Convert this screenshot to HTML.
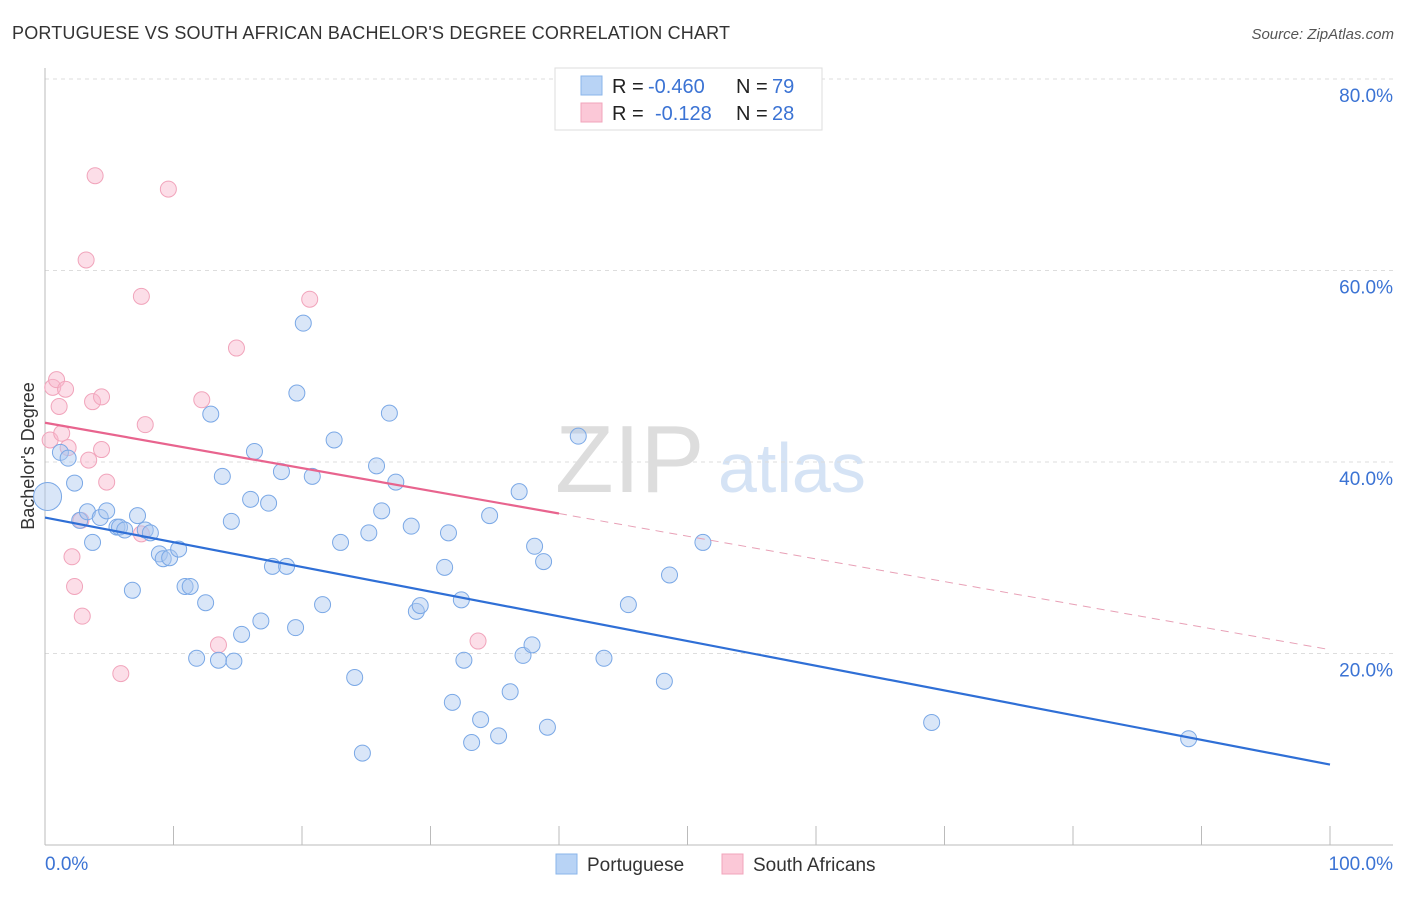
<!DOCTYPE html>
<html><head><meta charset="utf-8"><style>
body{margin:0;background:#fff;font-family:"Liberation Sans",sans-serif}
svg text{font-family:"Liberation Sans",sans-serif}
</style></head><body>
<svg id="c" width="1406" height="892" xmlns="http://www.w3.org/2000/svg">
<text x="12" y="39" font-size="18" fill="#333" textLength="718">PORTUGUESE VS SOUTH AFRICAN BACHELOR'S DEGREE CORRELATION CHART</text>
<text x="1394" y="39" font-size="15" fill="#555" font-style="italic" text-anchor="end">Source: ZipAtlas.com</text>
<text x="34" y="456" font-size="18" fill="#333" text-anchor="middle" transform="rotate(-90 34 456)">Bachelor's Degree</text>
<text x="555" y="492" font-size="96" fill="#ddd" font-family="Liberation Serif">ZIP</text>
<text x="718" y="492" font-size="70" fill="#d5e3f5">atlas</text>
<g id="grid"></g><g id="marks"></g>
<g>
<rect x="555" y="68" width="267" height="62" fill="#fff" stroke="#ddd"/>
<rect x="581" y="76" width="21" height="19" fill="#b8d3f5" stroke="#8ab4ea"/>
<rect x="581" y="103" width="21" height="19" fill="#fbc8d7" stroke="#f1a4bb"/>
<text x="612" y="93" font-size="20" fill="#222">R =</text>
<text x="648" y="93" font-size="20" fill="#3b73d4">-0.460</text>
<text x="736" y="93" font-size="20" fill="#222">N =</text>
<text x="772" y="93" font-size="20" fill="#3b73d4">79</text>
<text x="612" y="120" font-size="20" fill="#222">R =</text>
<text x="655" y="120" font-size="20" fill="#3b73d4">-0.128</text>
<text x="736" y="120" font-size="20" fill="#222">N =</text>
<text x="772" y="120" font-size="20" fill="#3b73d4">28</text>
</g>
<g>
<rect x="556" y="854" width="21" height="20" fill="#b8d3f5" stroke="#8ab4ea"/>
<text x="587" y="871" font-size="19" fill="#333">Portuguese</text>
<rect x="722" y="854" width="21" height="20" fill="#fbc8d7" stroke="#f1a4bb"/>
<text x="753" y="871" font-size="19" fill="#333">South Africans</text>
</g>
</svg>
<script>
const yTicks=[20,40,60,80];
const yTickLabels=["20.0%","40.0%","60.0%","80.0%"];
const xTicks=[0,10,20,30,40,50,60,70,80,90,100];
const blueX=[0.2,1.2,1.8,2.3,2.7,3.3,3.7,4.3,4.8,5.6,5.8,6.2,6.8,7.2,7.8,8.2,8.9,9.2,9.7,10.4,10.9,11.3,11.8,12.5,12.9,13.5,13.8,14.5,14.7,15.3,16.0,16.3,16.8,17.4,17.7,18.4,18.8,19.5,19.6,20.1,20.8,21.6,22.5,23.0,24.1,24.7,25.2,25.8,26.2,26.8,27.3,28.5,28.9,29.2,31.1,31.4,31.7,32.4,32.6,33.2,33.9,34.6,35.3,36.2,36.9,37.2,37.9,38.1,38.8,39.1,41.5,43.5,45.4,48.2,48.6,51.2,69.0,89.0];
const blueY=[36.4,41.0,40.4,37.8,33.9,34.8,31.6,34.2,34.9,33.2,33.2,32.9,26.6,34.4,32.9,32.6,30.4,29.9,30.0,30.9,27.0,27.0,19.5,25.3,45.0,19.3,38.5,33.8,19.2,22.0,36.1,41.1,23.4,35.7,29.1,39.0,29.1,22.7,47.2,54.5,38.5,25.1,42.3,31.6,17.5,9.6,32.6,39.6,34.9,45.1,37.9,33.3,24.4,25.0,29.0,32.6,14.9,25.6,19.3,10.7,13.1,34.4,11.4,16.0,36.9,19.8,20.9,31.2,29.6,12.3,42.7,19.5,25.1,17.1,28.2,31.6,12.8,11.1];
const pinkX=[0.4,0.6,0.9,1.1,1.3,1.6,1.8,2.1,2.3,2.9,2.8,3.2,3.4,3.7,3.9,4.4,4.4,4.8,5.9,7.5,7.5,7.8,9.6,12.2,13.5,14.9,20.6,33.7];
const pinkY=[42.3,47.8,48.6,45.8,43.0,47.6,41.5,30.1,27.0,23.9,33.9,61.1,40.2,46.3,69.9,46.8,41.3,37.9,17.9,57.3,32.5,43.9,68.5,46.5,20.9,51.9,57.0,21.3];
const blueTrend=[34.2,8.4];
const pinkTrend=[44.1,20.4];
const pinkSolidEnd=40;
const NS="http://www.w3.org/2000/svg";
const X=v=>45+v*12.85, Y=v=>845-v*9.575;
function mk(t,a,p){const e=document.createElementNS(NS,t);for(const k in a)e.setAttribute(k,a[k]);p.appendChild(e);return e;}
const g=document.getElementById('grid'), m=document.getElementById('marks');
yTicks.forEach((t,i)=>{
 const l=mk('line',{x1:45,x2:1393,y1:Y(t),y2:Y(t),stroke:'#ddd','stroke-dasharray':'4,4'},g);
 
 
 const tx=mk('text',{x:1393,y:Y(t)+23,'font-size':19,fill:'#3b73d4','text-anchor':'end'},g);
 tx.textContent=yTickLabels[i];
 
 
});
const ax=mk('line',{x1:45,x2:1393,y1:845,y2:845,stroke:'#bbb'},g);


const ay=mk('line',{x1:45,x2:45,y1:68,y2:845,stroke:'#bbb'},g);


xTicks.forEach(t=>{
 const l=mk('line',{x1:X(t),x2:X(t),y1:826,y2:845,stroke:'#bbb'},g);
 
 
});
const xl0=mk('text',{x:45,y:870,'font-size':19,fill:'#3b73d4'},g);xl0.textContent='0.0%';


const xl1=mk('text',{x:1393,y:870,'font-size':19,fill:'#3b73d4','text-anchor':'end'},g);xl1.textContent='100.0%';


pinkX.forEach((v,i)=>{
 const c=mk('circle',{cx:X(v),cy:Y(pinkY[i]),r:8,fill:'rgba(248,182,203,0.45)',stroke:'#f1a4bb','stroke-width':1},m);
 
 
});
blueX.forEach((v,i)=>{
 const c=mk('circle',{cx:X(v),cy:Y(blueY[i]),r:i===0?14:8,fill:'rgba(170,200,240,0.45)',stroke:'#7aa8e6','stroke-width':1},m);
 
 
});
const bt=mk('line',{x1:X(0),y1:Y(blueTrend[0]),x2:X(100),y2:Y(blueTrend[1]),stroke:'#2f6fd6','stroke-width':2.2},m);


const pm=pinkTrend[0]+(pinkTrend[1]-pinkTrend[0])*pinkSolidEnd/100;
const ps=mk('line',{x1:X(0),y1:Y(pinkTrend[0]),x2:X(pinkSolidEnd),y2:Y(pm),stroke:'#e8648e','stroke-width':2.2},m);


const pd=mk('line',{x1:X(pinkSolidEnd),y1:Y(pm),x2:X(100),y2:Y(pinkTrend[1]),stroke:'#e8a0b6','stroke-width':1,'stroke-dasharray':'8,6'},m);


</script>
</body></html>
